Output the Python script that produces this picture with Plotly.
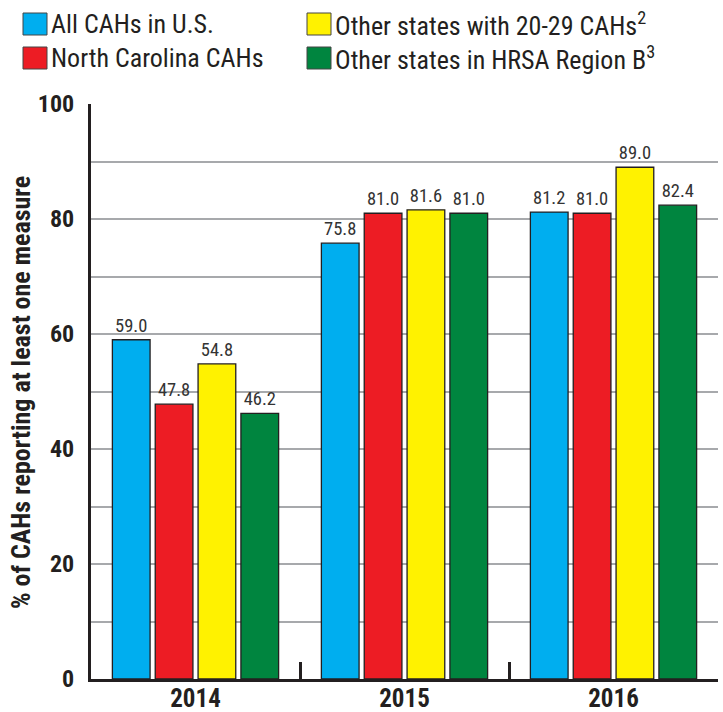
import plotly.graph_objects as go

years = ["2014", "2015", "2016"]
series_names = [
    "All CAHs in U.S.",
    "North Carolina CAHs",
    "Other states with 20-29 CAHs<sup>2</sup>",
    "Other states in HRSA Region B<sup>3</sup>",
]
all_us = [59.0, 75.8, 81.2]
north_carolina = [47.8, 81.0, 81.0]
states_20_29 = [54.8, 81.6, 89.0]
hrsa_region_b = [46.2, 81.0, 82.4]
series_values = [all_us, north_carolina, states_20_29, hrsa_region_b]
colors = ["#00AEEF", "#ED1C24", "#FFF200", "#00853F"]

y_tickvals = [0, 20, 40, 60, 80, 100]

FONT = "Roboto Condensed, Liberation Sans Narrow, Arial Narrow, DejaVu Sans Condensed, sans-serif"

L, R, T, B = 91, 5, 104, 33
W, H = 723, 712
PW, PH = W - L - R, H - T - B

fig = go.Figure()
for name, vals, col in zip(series_names, series_values, colors):
    fig.add_trace(go.Bar(
        x=years, y=vals, name=name,
        marker=dict(color=col, line=dict(color="#231F20", width=1.3)),
        text=[f"{v:.1f}" for v in vals],
        textposition="outside",
        textfont=dict(family=FONT, size=18.5, color="#333333"),
        cliponaxis=False,
        showlegend=False,
    ))

fig.update_layout(
    width=W, height=H,
    margin=dict(l=L, r=R, t=T, b=B, autoexpand=False),
    paper_bgcolor="white", plot_bgcolor="white",
    barmode="group", bargap=0.18, bargroupgap=0.12,
    font=dict(family=FONT, color="#231F20"),
    showlegend=False,
)
fig.update_xaxes(
    showline=True, linecolor="#231F20", linewidth=2.5,
    ticks="inside", tickson="boundaries", ticklen=17, tickwidth=2.5, tickcolor="#231F20",
    tickfont=dict(family=FONT, size=25, color="#231F20", weight="bold"),
    ticklabelstandoff=-5,
    showgrid=False, automargin=False,
)
fig.update_yaxes(
    range=[0, 100], showline=True, linecolor="#231F20", linewidth=3,
    tickvals=y_tickvals,
    tickfont=dict(family=FONT, size=24, color="#231F20", weight="bold"),
    ticklabelstandoff=9,
    showgrid=True, gridcolor="#A7A9AC", gridwidth=1.5,
    minor=dict(dtick=10, showgrid=True, gridcolor="#A7A9AC", gridwidth=1.5),
    zeroline=False, automargin=False,
)

fig.add_annotation(
    text="% of CAHs reporting at least one measure",
    xref="paper", yref="paper", x=(21 - L) / PW, y=(H - B - 393) / PH,
    xanchor="center", yanchor="middle", textangle=-90, showarrow=False,
    font=dict(family=FONT, size=26, color="#231F20", weight="bold"),
)

# manual legend (2 columns): blue, red in column 1; yellow, green in column 2
legend_pos = [(23, 24), (23, 58), (307, 24), (307, 58)]
for (lx, ly), name, col in zip(legend_pos, series_names, colors):
    fig.add_shape(
        type="rect", xref="paper", yref="paper",
        x0=(lx - L) / PW, x1=(lx + 24 - L) / PW,
        y0=(H - B - (ly + 11)) / PH, y1=(H - B - (ly - 11)) / PH,
        fillcolor=col, line=dict(color="#444444", width=1),
    )
    fig.add_annotation(
        text=name, xref="paper", yref="paper",
        x=(lx + 26 - L) / PW, y=(H - B - ly) / PH,
        xanchor="left", yanchor="middle", showarrow=False,
        font=dict(family=FONT, size=26, color="#231F20"),
    )

fig.write_html(
    "out.html",
    config={"displayModeBar": False},
    post_script="document.body.style.margin='0px';document.body.style.overflow='hidden';",
)
